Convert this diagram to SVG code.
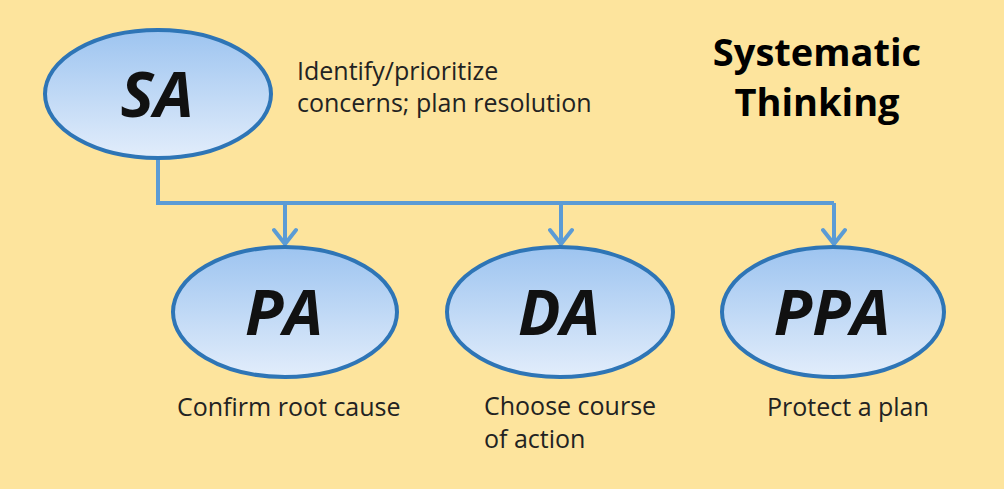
<svg xmlns="http://www.w3.org/2000/svg" width="1004" height="489" viewBox="0 0 1004 489">
  <defs>
    <linearGradient id="bubble" x1="0" y1="0" x2="0" y2="1">
      <stop offset="0" stop-color="#9dc4f0"/>
      <stop offset="1" stop-color="#e2edfb"/>
    </linearGradient>
    <!-- open chevron arrowhead, drawn along +x so orient="auto" points it down the wire -->
    <marker id="chev" viewBox="0 0 20 26" refX="17" refY="13" markerWidth="20" markerHeight="26" markerUnits="userSpaceOnUse" orient="auto">
      <path d="M3,2 L17,13 L3,24" fill="none" stroke="#5b9bd5" stroke-width="4" stroke-linecap="round" stroke-linejoin="round"/>
    </marker>
    <style>
      .node ellipse { fill: url(#bubble); stroke: #2e75b6; stroke-width: 4; }
      .abbr { font-family: "Open Sans", "Liberation Sans", sans-serif; font-weight: bold; font-style: italic; font-size: 63px; fill: #111; text-anchor: middle; }
      .note { font-family: "Open Sans", "Liberation Sans", sans-serif; font-size: 25px; fill: #222; }
      .title { font-family: "Open Sans", "Liberation Sans", sans-serif; font-weight: bold; font-size: 38px; fill: #000; text-anchor: middle; }
      .wire { fill: none; stroke: #5b9bd5; stroke-width: 4; }
    </style>
  </defs>

  <rect width="1004" height="489" fill="#fde49d"/>

  <!-- title -->
  <g id="title">
    <text class="title" x="817" y="66">Systematic</text>
    <text class="title" x="817" y="116">Thinking</text>
  </g>

  <!-- connectors -->
  <g id="connectors">
    <path class="wire" d="M158,158 V203 H834"/>
    <path class="wire" d="M285,203 V244" marker-end="url(#chev)"/>
    <path class="wire" d="M561,203 V244" marker-end="url(#chev)"/>
    <path class="wire" d="M834,203 V244" marker-end="url(#chev)"/>
  </g>

  <!-- SA node -->
  <g id="node-sa" class="node">
    <ellipse cx="158" cy="94" rx="113" ry="64"/>
    <text class="abbr" x="157" y="117">SA</text>
    <text class="note" x="297" y="80">Identify/prioritize</text>
    <text class="note" x="297" y="112">concerns; plan resolution</text>
  </g>

  <!-- PA node -->
  <g id="node-pa" class="node">
    <ellipse cx="285" cy="312" rx="112" ry="65"/>
    <text class="abbr" x="284" y="335">PA</text>
    <text class="note" x="177" y="416">Confirm root cause</text>
  </g>

  <!-- DA node -->
  <g id="node-da" class="node">
    <ellipse cx="560" cy="312" rx="113" ry="65"/>
    <text class="abbr" x="559" y="335">DA</text>
    <text class="note" x="484" y="415">Choose course</text>
    <text class="note" x="484" y="448">of action</text>
  </g>

  <!-- PPA node -->
  <g id="node-ppa" class="node">
    <ellipse cx="833" cy="312" rx="111" ry="65"/>
    <text class="abbr" x="832" y="335">PPA</text>
    <text class="note" x="767" y="416">Protect a plan</text>
  </g>
</svg>
